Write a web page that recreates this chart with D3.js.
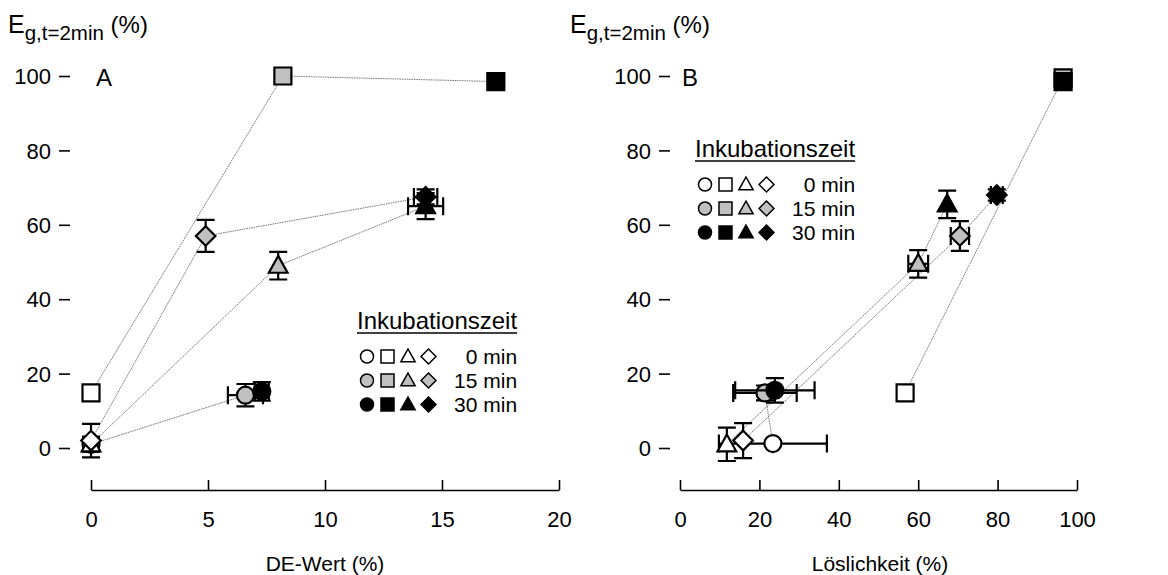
<!DOCTYPE html>
<html>
<head>
<meta charset="utf-8">
<script src="https://cdn.jsdelivr.net/npm/d3@7"></script>
<style>
  html, body { margin: 0; padding: 0; background: #fff; }
  svg { display: block; font-family: "Liberation Sans", Arial, sans-serif; }
</style>
</head>
<body>
<svg id="chart" width="1168" height="575"></svg>
<script>
// Marker shapes (rows of every data array) and incubation times (columns)
const shapes = ["circle", "square", "triangle", "diamond"];
const times = ["0 min", "15 min", "30 min"];
const timeFills = ["#ffffff", "#c0c0c0", "#000000"];

// Panel A: DE-Wert (%) vs E_g,t=2min (%)
const deWert    = [[0, 6.6, 7.3], [0, 8.2, 17.3], [0, 8.0, 14.3], [0, 4.9, 14.3]];
const deWertErr = [[0, 0.75, 0.3], [0, 0, 0], [0, 0, 0.75], [0, 0, 0.5]];
const egA       = [[1, 14.2, 15.2], [14.8, 100, 98.5], [1, 49, 65], [2, 57, 67.5]];
const egAErr    = [[2, 3, 2.5], [0, 0, 0], [2, 3.7, 3.5], [4.5, 4.3, 2]];

// Panel B: Löslichkeit (%) vs E_g,t=2min (%)
const loesl     = [[23.4, 21.4, 23.9], [56.7, 96.5, 96.5], [11.8, 60, 67.3], [15.9, 70.5, 79.8]];
const loeslErr  = [[13.6, 8, 10], [0, 0, 0], [0, 2.5, 0], [0, 2.3, 1.5]];
const egB       = [[1.2, 14.8, 15.5], [14.8, 99.5, 98.5], [1, 49.5, 65.5], [2, 57, 68]];
const egBErr    = [[0, 2, 3.3], [0, 0, 0], [4.5, 3.7, 3.7], [4.7, 4, 1.5]];

const xTicksA = [0, 5, 10, 15, 20];
const xTicksB = [0, 20, 40, 60, 80, 100];
const yTicks = [0, 20, 40, 60, 80, 100];

const FONT = '"Liberation Sans", Arial, sans-serif';
const svg = d3.select("#chart");

// Custom marker paths centred on (0,0); s = nominal width
function markerPath(shape, s) {
  const h = s / 2;
  if (shape === "circle") {
    const p = d3.path(); p.arc(0, 0, h, 0, 2 * Math.PI); p.closePath(); return p.toString();
  }
  if (shape === "square") return `M${-h},${-h}H${h}V${h}H${-h}Z`;
  if (shape === "triangle") {
    const t = h * 1.1;
    return `M0,${-t * 1.05}L${t},${t * 0.75}L${-t},${t * 0.75}Z`;
  }
  const d = h * 1.15;
  return `M0,${-d}L${d},0L0,${d}L${-d},0Z`;
}

function drawPanel(cfg) {
  const g = svg.append("g");
  const x = d3.scaleLinear().domain(cfg.xDomain).range(cfg.xRange);
  const y = d3.scaleLinear().domain([0, 100]).range([448, 76]);

  // y axis: tick marks only, pointing inward
  const yAxis = d3.axisLeft(y).tickValues(yTicks).tickSize(-11).tickPadding(8).tickSizeOuter(0);
  const ga = g.append("g").attr("transform", `translate(${cfg.yAxisX},0)`).call(yAxis);
  ga.select(".domain").remove();
  // x axis: offset line with inward ticks
  const xAxis = d3.axisBottom(x).tickValues(cfg.xTicks).tickSize(-10).tickPadding(21).tickSizeOuter(0);
  const gb = g.append("g").attr("transform", `translate(0,490)`).call(xAxis);
  gb.select(".domain").attr("stroke", "#000").attr("stroke-width", 1.6);
  [ga, gb].forEach(a => {
    a.selectAll(".tick line").attr("stroke", "#000").attr("stroke-width", 1.6);
    a.selectAll(".tick text").attr("fill", "#000").style("font-size", "22px").style("font-family", FONT);
  });
  ga.selectAll(".tick text").attr("dy", "0.35em");

  // connecting lines per marker shape
  shapes.forEach((sh, i) => {
    const pts = cfg.xs[i].map((v, j) => [x(v), y(cfg.ys[i][j])]);
    g.append("path").attr("d", d3.line()(pts))
      .attr("fill", "none").attr("stroke", "#6a6a6a").attr("stroke-width", 0.9)
      .attr("stroke-dasharray", "1.6,0.8");
  });

  // error bars and markers
  const cap = 9;
  [0, 1, 2].forEach(j => {
    shapes.forEach((sh, i) => {
      const cx = x(cfg.xs[i][j]), cy = y(cfg.ys[i][j]);
      const ex = cfg.xErr[i][j], ey = cfg.yErr[i][j];
      const eb = g.append("g").attr("stroke", "#000").attr("stroke-width", 2.2).attr("fill", "none");
      if (ey > 0) {
        const y1 = y(cfg.ys[i][j] + ey), y2 = y(cfg.ys[i][j] - ey);
        eb.append("path").attr("d", `M${cx},${y1}V${y2}M${cx - cap},${y1}H${cx + cap}M${cx - cap},${y2}H${cx + cap}`);
      }
      if (ex > 0) {
        const x1 = x(cfg.xs[i][j] - ex), x2 = x(cfg.xs[i][j] + ex);
        eb.append("path").attr("d", `M${x1},${cy}H${x2}M${x1},${cy - cap}V${cy + cap}M${x2},${cy - cap}V${cy + cap}`);
      }
      g.append("path").attr("d", markerPath(sh, 17))
        .attr("transform", `translate(${cx},${cy})`)
        .attr("fill", timeFills[j]).attr("stroke", "#000").attr("stroke-width", 2.2);
    });
  });

  // panel letter
  g.append("text").attr("x", cfg.letterX).attr("y", 86).text(cfg.letter)
    .style("font-size", "24px").attr("fill", "#000");

  // y title E_g,t=2min (%)
  const yt = g.append("text").attr("x", cfg.yTitleX).attr("y", 33).attr("fill", "#000");
  yt.append("tspan").text("E").style("font-size", "25px");
  yt.append("tspan").text("g,t=2min").attr("dy", 7).style("font-size", "20.5px");
  yt.append("tspan").text(" (%)").attr("dy", -7).style("font-size", "24px");

  // x title
  g.append("text").attr("x", cfg.xTitleX).attr("y", 571).attr("text-anchor", "middle")
    .text(cfg.xTitle).style("font-size", "21px").attr("fill", "#000");

  // legend
  const lg = g.append("g").attr("transform", `translate(${cfg.legX},${cfg.legY})`);
  const title = lg.append("text").attr("x", 0).attr("y", 0).text("Inkubationszeit")
    .style("font-size", "24px").attr("fill", "#000");
  const tw = title.node().getComputedTextLength();
  lg.append("line").attr("x1", 0).attr("x2", tw).attr("y1", 4).attr("y2", 4)
    .attr("stroke", "#000").attr("stroke-width", 1.5);
  times.forEach((t, j) => {
    const ry = 35 + j * 24;
    shapes.forEach((sh, i) => {
      lg.append("path").attr("d", markerPath(sh, 13))
        .attr("transform", `translate(${10 + i * 20.5},${ry - 7.5})`)
        .attr("fill", timeFills[j]).attr("stroke", "#000").attr("stroke-width", 1.5);
    });
    lg.append("text").attr("x", tw).attr("y", ry).attr("text-anchor", "end")
      .text(t).style("font-size", "21px").attr("fill", "#000");
  });
}

drawPanel({
  xDomain: [0, 20], xRange: [91, 559], xTicks: xTicksA, yAxisX: 59,
  xs: deWert, ys: egA, xErr: deWertErr, yErr: egAErr,
  letter: "A", letterX: 96, yTitleX: 8, xTitle: "DE-Wert (%)", xTitleX: 325,
  legX: 357, legY: 329
});
drawPanel({
  xDomain: [0, 100], xRange: [680, 1077], xTicks: xTicksB, yAxisX: 659,
  xs: loesl, ys: egB, xErr: loeslErr, yErr: egBErr,
  letter: "B", letterX: 682, yTitleX: 570, xTitle: "Löslichkeit (%)", xTitleX: 880,
  legX: 695, legY: 157
});
</script>
</body>
</html>
